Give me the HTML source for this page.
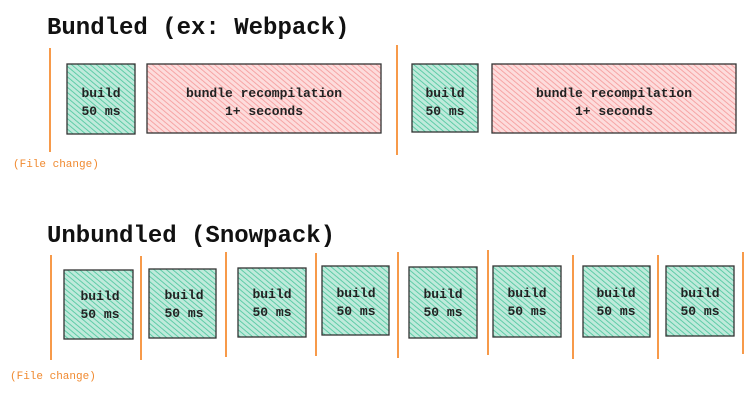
<!DOCTYPE html>
<html><head><meta charset="utf-8"><style>
html,body{margin:0;padding:0;background:#fff;width:755px;height:402px;overflow:hidden}
text{font-family:"Liberation Mono",monospace}
</style></head><body>
<svg width="755" height="402" viewBox="0 0 755 402" xmlns="http://www.w3.org/2000/svg">
<defs>
<pattern id="g" width="4" height="4" patternUnits="userSpaceOnUse" patternTransform="rotate(-50)">
<rect width="4" height="4" fill="#bfeadb"/><line x1="0" y1="0" x2="0" y2="4" stroke="#4fc79f" stroke-width="1.7"/></pattern>
<pattern id="r" width="4" height="4" patternUnits="userSpaceOnUse" patternTransform="rotate(-50)">
<rect width="4" height="4" fill="#fddcdc"/><line x1="0" y1="0" x2="0" y2="4" stroke="#f59c9c" stroke-width="1.7"/></pattern>
</defs>
<g font-weight="bold" font-size="24" fill="#111">
<text x="47" y="34">Bundled (ex: Webpack)</text>
<text x="47" y="242">Unbundled (Snowpack)</text>
</g>
<g stroke="#f79a4a" stroke-width="2">
<line x1="50" y1="48" x2="50" y2="152"/><line x1="397" y1="45" x2="397" y2="155"/>
<line x1="51" y1="255" x2="51" y2="360"/><line x1="141" y1="256" x2="141" y2="360"/>
<line x1="226" y1="252" x2="226" y2="357"/><line x1="316" y1="253" x2="316" y2="356"/>
<line x1="398" y1="252" x2="398" y2="358"/><line x1="488" y1="250" x2="488" y2="355"/>
<line x1="573" y1="255" x2="573" y2="359"/><line x1="658" y1="255" x2="658" y2="359"/>
<line x1="743" y1="252" x2="743" y2="354"/>
</g>
<g stroke="#333" stroke-width="1.3">
<rect x="67" y="64" width="68" height="70" fill="url(#g)"/>
<rect x="147" y="64" width="234" height="69" fill="url(#r)"/>
<rect x="412" y="64" width="66" height="68" fill="url(#g)"/>
<rect x="492" y="64" width="244" height="69" fill="url(#r)"/>
<rect x="64" y="270" width="69" height="69" fill="url(#g)"/>
<rect x="149" y="269" width="67" height="69" fill="url(#g)"/>
<rect x="238" y="268" width="68" height="69" fill="url(#g)"/>
<rect x="322" y="266" width="67" height="69" fill="url(#g)"/>
<rect x="409" y="267" width="68" height="71" fill="url(#g)"/>
<rect x="493" y="266" width="68" height="71" fill="url(#g)"/>
<rect x="583" y="266" width="67" height="71" fill="url(#g)"/>
<rect x="666" y="266" width="68" height="70" fill="url(#g)"/>
</g>
<g font-size="13" font-weight="bold" fill="#222" text-anchor="middle">
<text x="101" y="97">build</text><text x="101" y="115">50 ms</text>
<text x="264" y="97">bundle recompilation</text><text x="264" y="115">1+ seconds</text>
<text x="445" y="97">build</text><text x="445" y="115">50 ms</text>
<text x="614" y="97">bundle recompilation</text><text x="614" y="115">1+ seconds</text>
<text x="100" y="300">build</text><text x="100" y="318">50 ms</text>
<text x="184" y="299">build</text><text x="184" y="317">50 ms</text>
<text x="272" y="298">build</text><text x="272" y="316">50 ms</text>
<text x="356" y="297">build</text><text x="356" y="315">50 ms</text>
<text x="443" y="298">build</text><text x="443" y="316">50 ms</text>
<text x="527" y="297">build</text><text x="527" y="315">50 ms</text>
<text x="616" y="297">build</text><text x="616" y="315">50 ms</text>
<text x="700" y="297">build</text><text x="700" y="315">50 ms</text>
</g>
<g font-size="11" fill="#f08a30" style="font-family:'DejaVu Sans',sans-serif">
<text x="13" y="167">(File change)</text>
<text x="10" y="379">(File change)</text>
</g>
</svg>
</body></html>
